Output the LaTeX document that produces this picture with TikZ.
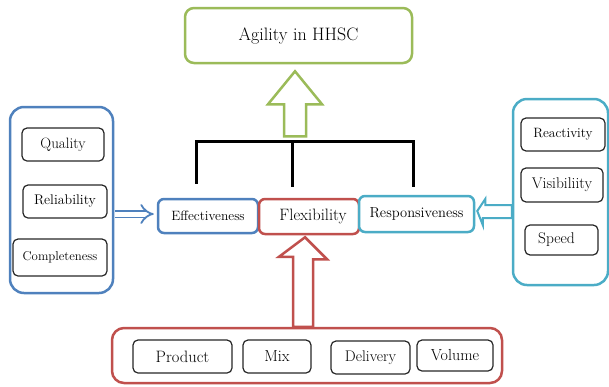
\documentclass[tikz,border=0pt]{standalone}
\usepackage{tikz}
\usetikzlibrary{arrows.meta, calc}
\definecolor{agiGreen}{RGB}{155,187,89}
\definecolor{effBlue}{RGB}{79,129,189}
\definecolor{flexRed}{RGB}{192,80,77}
\definecolor{resTeal}{RGB}{75,172,198}
\newcommand{\fsz}[1]{\fontsize{#1}{#1}\selectfont}
\tikzset{
    item/.style={draw=black!85, line width=1.2pt, rounded corners=5pt, inner sep=0pt, font=\fsz{14}},
    group/.style={draw, line width=2.5pt, rounded corners=14pt, inner sep=0pt},
    dim/.style={draw, line width=2.5pt, rounded corners=6pt, inner sep=0pt, fill=white, font=\fsz{13.5}},
    blockarrow/.style={line width=2.5pt, line join=miter, fill=white}
}

\begin{document}
\begin{tikzpicture}[x=1pt, y=-1pt]
    \useasboundingbox (0,0) rectangle (609,386);
    % Goal
    \node[dim, draw=agiGreen, rounded corners=9pt, minimum width=227pt, minimum height=55pt, font=\fsz{18}] (agility) at (298.5,35.5) {Agility in HHSC};
    % Three dimensions
    \node[dim, draw=effBlue, minimum width=100pt, minimum height=34pt] (eff) at (208,216) {Effectiveness};
    \node[dim, draw=flexRed, minimum width=100pt, minimum height=35pt, font=\fsz{16.5}] (flex) at (309,216.5) {\hspace*{8pt}Flexibility};
    \node[dim, draw=resTeal, minimum width=115pt, minimum height=36pt, font=\fsz{14.5}] (resp) at (416.5,214) {Responsiveness};
    % Left group
    \node[group, draw=effBlue, minimum width=103pt, minimum height=186pt] (effgroup) at (61.5,200) {};
    \node[item, minimum width=82pt, minimum height=33pt, font=\fsz{15}] (quality) at (63,144.5) {Quality};
    \node[item, minimum width=84pt, minimum height=33pt] (reliab) at (65,201.5) {Reliability};
    \node[item, minimum width=94pt, minimum height=37pt, font=\fsz{12.8}] (complete) at (60,257.5) {Completeness};
    % Right group
    \node[group, draw=resTeal, minimum width=95pt, minimum height=186pt] (resgroup) at (560.5,192) {};
    \node[item, minimum width=84pt, minimum height=33pt, font=\fsz{13.5}] (react) at (563,134.5) {Reactivity};
    \node[item, minimum width=82pt, minimum height=34pt, font=\fsz{15.5}] (visib) at (562,185) {Visibiliity};
    \node[item, minimum width=73pt, minimum height=30pt, font=\fsz{15.5}] (speed) at (561.5,240) {Speed\hspace*{10pt}};
    % Bottom group
    \node[group, draw=flexRed, rounded corners=12pt, minimum width=390pt, minimum height=55pt] (flexgroup) at (307,355.5) {};
    \node[item, minimum width=99pt, minimum height=33pt, font=\fsz{16.5}] (product) at (182.5,356.5) {Product};
    \node[item, minimum width=68pt, minimum height=33pt, font=\fsz{16}] (mix) at (277,356.5) {Mix};
    \node[item, minimum width=79pt, minimum height=33pt, font=\fsz{15.4}] (delivery) at (370.5,357.5) {Delivery};
    \node[item, minimum width=76pt, minimum height=31pt, font=\fsz{16}] (volume) at (455,355.5) {Volume};
    % Bracket joining the dimensions
    \coordinate (brL) at ($(eff.north)+(-12,-56)$);
    \coordinate (brM) at ($(flex.north)+(-17,-56)$);
    \coordinate (brR) at ($(resp.north)+(-3.5,-53)$);
    \draw[line width=3pt] ($(eff.north)+(-12,-14)$) -- (brL) -- (brR) -- ($(resp.north)+(-3.5,-8)$);
    \draw[line width=3pt] (brM) -- ($(flex.north)+(-17,-11)$);
    % Green arrow up to the goal
    \draw[blockarrow, draw=agiGreen] ($(agility.south)+(-3.5,7)$) -- ++(27,33) -- ++(-16,0) -- ++(0,32)
        -- ++(-22,0) -- ++(0,-32) -- ++(-16,0) -- cycle;
    % Red arrow up from the bottom group
    \draw[blockarrow, draw=flexRed] ($(flex.south)+(-4,2)$) -- ++(22,22) -- ++(-14,0) |- ($(flexgroup.north)+(6,0)$)
        -- ++(-20,0) -- ++(0,-70) -- ++(-14,0) -- cycle;
    % Teal arrow into Responsiveness
    \draw[blockarrow, draw=resTeal, line width=2pt] ($(resp.east)+(2,-3)$) -- ++(8,-12) -- ++(0,6) -- ($(resgroup.west)+(0,13)$)
        -- ++(0,13) -- ++(-29,0) -- ++(0,7) -- cycle;
    % Blue double arrow into Effectiveness
    \draw[effBlue, line width=1.8pt, double, double distance=5pt, -{Implies[length=6pt]}] ($(effgroup.east)+(1,14)$) -- ($(eff.west)+(-3,-2)$);
\end{tikzpicture}
\end{document}
